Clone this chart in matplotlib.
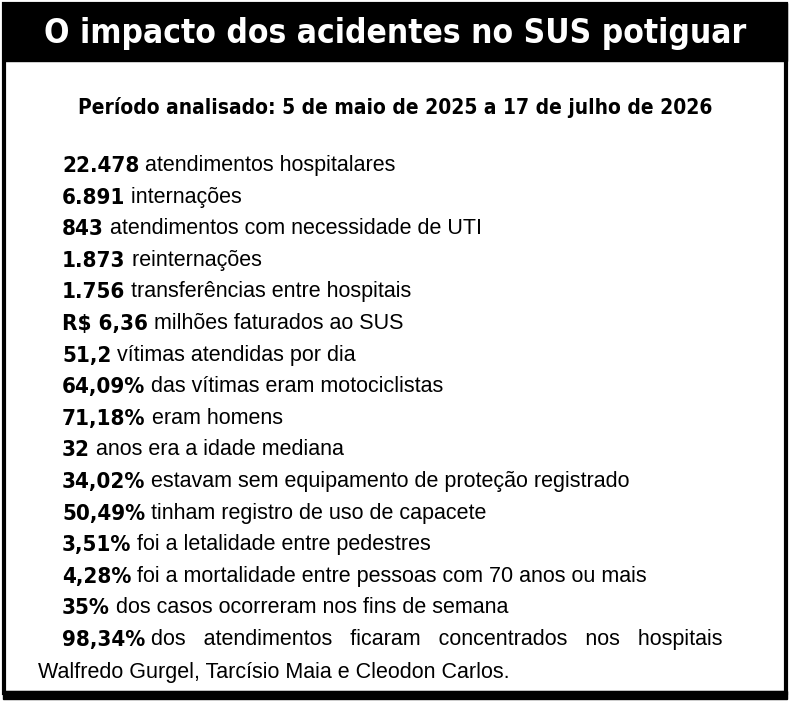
import matplotlib
matplotlib.use("Agg")
import matplotlib.pyplot as plt
from matplotlib.patches import Rectangle

title = "O impacto dos acidentes no SUS potiguar"
subtitle = "Período analisado: 5 de maio de 2025 a 17 de julho de 2026"
numbers = ["22.478", "6.891", "843", "1.873", "1.756", "R$ 6,36", "51,2", "64,09%",
           "71,18%", "32", "34,02%", "50,49%", "3,51%", "4,28%", "35%", "98,34%"]
texts = ["atendimentos hospitalares", "internações", "atendimentos com necessidade de UTI",
         "reinternações", "transferências entre hospitais", "milhões faturados ao SUS",
         "vítimas atendidas por dia", "das vítimas eram motociclistas", "eram homens",
         "anos era a idade mediana", "estavam sem equipamento de proteção registrado",
         "tinham registro de uso de capacete", "foi a letalidade entre pedestres",
         "foi a mortalidade entre pessoas com 70 anos ou mais",
         "dos casos ocorreram nos fins de semana",
         "dos   atendimentos   ficaram   concentrados   nos   hospitais"]
last_line = "Walfredo Gurgel, Tarcísio Maia e Cleodon Carlos."

bold_family = "DejaVu Sans"

W, H = 790, 705
fig = plt.figure(figsize=(W/100, H/100), dpi=100)
ax = fig.add_axes([0, 0, 1, 1])
ax.set_xlim(0, W); ax.set_ylim(H, 0); ax.axis("off")

ax.add_patch(Rectangle((3, 3), W-6, 58, color="black"))
ax.add_patch(Rectangle((4, 4), W-8, H-16, fill=False, lw=3, ec="black"))
ax.add_patch(Rectangle((3, H-14), W-6, 8, color="black"))
ax.text(W/2, 33, title, color="white", fontsize=24, fontweight="bold",
        family=bold_family, fontstretch="condensed", ha="center", va="center")
ax.text(W/2, 107, subtitle, fontsize=15, fontweight="bold", family=bold_family,
        fontstretch="condensed", ha="center", va="center")

y0, dy = 172, 31.6
for i, (n, t) in enumerate(zip(numbers, texts)):
    y = y0 + i*dy
    tb = ax.text(62, y, n, fontsize=16, fontweight="bold", family=bold_family,
                 fontstretch="condensed", ha="left", va="baseline")
    ax.annotate(" " + t, xy=(1, 0), xycoords=tb, xytext=(0, 0), textcoords="offset points",
                fontsize=15.5, family="Liberation Sans", ha="left", va="bottom")
ax.text(38, y0 + len(numbers)*dy, last_line, fontsize=15.5, family="Liberation Sans",
        ha="left", va="baseline")
fig.savefig("out.png", dpi=100)
